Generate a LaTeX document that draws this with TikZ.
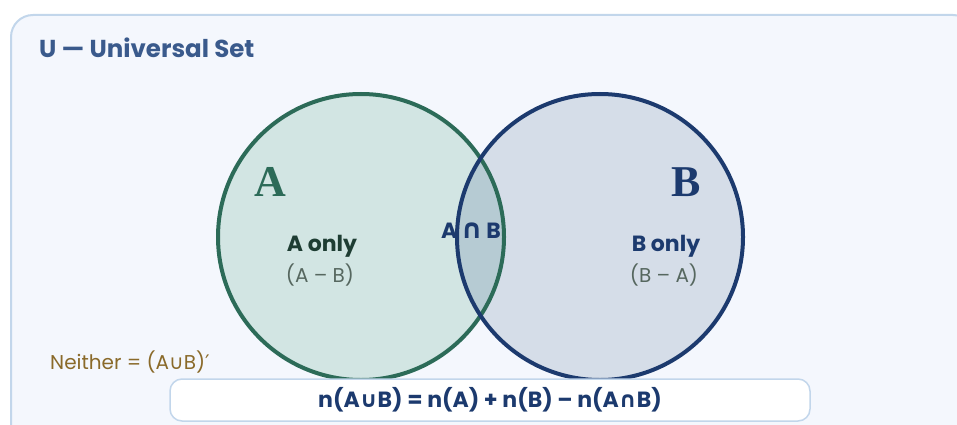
\documentclass[tikz,border=0pt]{standalone}
\usepackage{fontspec}
\setmainfont{Poppins}
\newfontfamily\symfont{DejaVu Sans}
\newfontfamily\setfont{Liberation Serif}

\definecolor{paneFill}{HTML}{F4F7FD}
\definecolor{paneLine}{HTML}{C2D6EB}
\definecolor{titleBlue}{HTML}{3A5A8C}
\definecolor{greenLine}{HTML}{2C6B58}
\definecolor{greenFill}{HTML}{D2E5E3}
\definecolor{greenText}{HTML}{1E3D33}
\definecolor{navyLine}{HTML}{1C3A6E}
\definecolor{navyFill}{HTML}{D5DDE8}
\definecolor{bothFill}{HTML}{B6CBD3}
\definecolor{diffGray}{HTML}{56675F}
\definecolor{brownText}{HTML}{8A6A2A}

\newcommand{\union}{{\symfont\char"222A}}
\newcommand{\inter}{{\symfont\char"2229}}

\tikzset{
  ringA/.style={draw=greenLine, line width=4pt},
  ringB/.style={draw=navyLine, line width=4pt},
  region/.style={font=\bfseries\fontsize{22}{26}\selectfont, inner sep=0pt},
  diff/.style={text=diffGray, font=\fontsize{20}{24}\selectfont, inner sep=0pt},
  setname/.style={font=\setfont\bfseries\fontsize{44}{50}\selectfont, inner sep=0pt}
}

\begin{document}
\begin{tikzpicture}[x=1pt,y=-1pt]
\useasboundingbox (0,0) rectangle (957,425);
% universal set pane, runs off the right and bottom
\draw[fill=paneFill, draw=paneLine, line width=2pt, rounded corners=22pt] (11,15) rectangle (975,445);
\node[anchor=base west, text=titleBlue, font=\bfseries\fontsize{24.5}{28}\selectfont, inner sep=0pt] (title) at (39,58) {U — Universal Set};

% the two sets
\coordinate (cA) at (361,237);
\coordinate (cB) at (600,237);
\fill[greenFill] (cA) circle (143pt);
\fill[navyFill] (cB) circle (143pt);
\begin{scope}
  \clip (cA) circle (143pt);
  \fill[bothFill] (cB) circle (143pt);
\end{scope}
\draw[ringA] (cA) circle (143pt);
\draw[ringB] (cB) circle (143pt);

\node[setname, text=greenLine, anchor=base west] (nameA) at (254,196) {A};
\node[setname, text=navyLine, anchor=base west] (nameB) at (671,196) {B};

\node[region, text=greenText, anchor=base] (onlyA) at (322,251) {A only};
\node[diff, anchor=base] (diffA) at (320,282) {(A – B)};
\node[region, text=navyLine, anchor=base] (both) at (471,238) {A\,{\fontsize{27}{27}\selectfont\inter}\,B};
\node[region, text=navyLine, anchor=base] (onlyB) at (666,251) {B only};
\node[diff, anchor=base] (diffB) at (664,282) {(B – A)};

\node[text=brownText, font=\fontsize{20}{23}\selectfont, anchor=base west, inner sep=0pt] (neither) at (50,369) {Neither = (A\union B){\symfont\char"2032}};

% formula strip
\node[draw=paneLine, fill=white, line width=1.5pt, rounded corners=12pt, minimum width=640pt, minimum height=42pt] (rule) at (490,400) {};
\node[text=navyLine, font=\bfseries\fontsize{22}{26}\selectfont] (formula) at (rule) {n(A\union B) = n(A) + n(B) – n(A\inter B)};
\end{tikzpicture}
\end{document}
